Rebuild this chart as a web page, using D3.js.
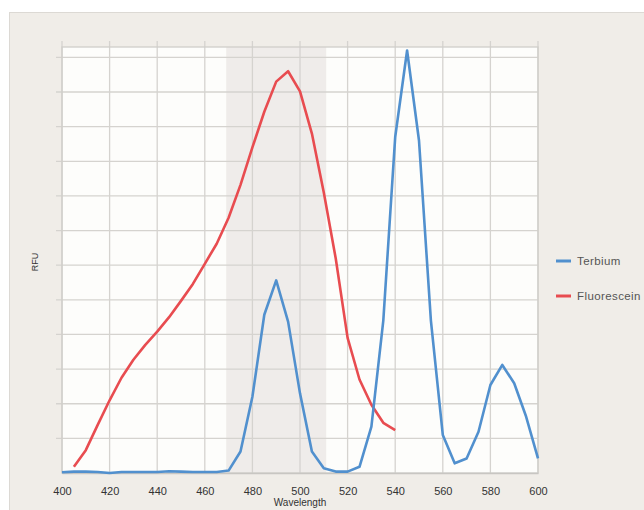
<!DOCTYPE html>
<html><head><meta charset="utf-8">
<script src="https://cdn.jsdelivr.net/npm/d3@7"></script>
<style>body{margin:0;background:#fff}svg{display:block}</style>
</head><body>
<script>
const wavelengths = [400,405,410,415,420,425,430,435,440,445,450,455,460,465,470,475,480,485,490,495,500,505,510,515,520,525,530,535,540,545,550,555,560,565,570,575,580,585,590,595,600];
const terbium = [0.02,0.04,0.04,0.03,0.0,0.03,0.03,0.03,0.03,0.05,0.04,0.03,0.03,0.03,0.07,0.62,2.2,4.57,5.56,4.37,2.3,0.62,0.14,0.04,0.04,0.18,1.34,4.4,9.7,12.2,9.6,4.4,1.1,0.28,0.42,1.19,2.54,3.12,2.59,1.63,0.42];
const fluorWavelengths = [405,410,415,420,425,430,435,440,445,450,455,460,465,470,475,480,485,490,495,500,505,510,515,520,525,530,535,540];
const fluorescein = [0.18,0.66,1.39,2.1,2.75,3.27,3.7,4.08,4.5,4.97,5.46,6.04,6.62,7.37,8.32,9.4,10.43,11.3,11.6,11.02,9.8,8.1,6.2,3.9,2.7,1.97,1.45,1.24];
const xTicks = [400,420,440,460,480,500,520,540,560,580,600];
const yGrid = [1,2,3,4,5,6,7,8,9,10,11,12];
const band = [469,511];
const seriesNames = ["Terbium","Fluorescein"];
const colors = ["#5190ce","#e84c50"];

const W=644,H=510;
const svg=d3.select("body").append("svg").attr("width",W).attr("height",H);
svg.append("rect").attr("width",W).attr("height",H).attr("fill","#fff");
svg.append("rect").attr("x",9.5).attr("y",12.5).attr("width",W).attr("height",H)
  .attr("fill","#f0ede8").attr("stroke","#dcd9d4");

const L=62,R=538,T=47,B=473;
const x=d3.scaleLinear().domain([400,600]).range([L,R]);
const y=d3.scaleLinear().domain([0,12.3]).range([B,T]);

svg.append("rect").attr("x",L).attr("y",T).attr("width",R-L).attr("height",B-T).attr("fill","#fdfdfb");
svg.append("rect").attr("x",x(band[0])).attr("y",T).attr("width",x(band[1])-x(band[0])).attr("height",B-T).attr("fill","#efecea");

const grid="#d5d3cf";
svg.append("g").selectAll("line").data(xTicks).join("line")
  .attr("x1",d=>x(d)).attr("x2",d=>x(d)).attr("y1",T-6).attr("y2",B)
  .attr("stroke",grid).attr("stroke-width",1.3);
svg.append("g").selectAll("line").data(yGrid).join("line")
  .attr("x1",L-6).attr("x2",R).attr("y1",d=>y(d)).attr("y2",d=>y(d))
  .attr("stroke",grid).attr("stroke-width",1.3);
svg.append("rect").attr("x",L).attr("y",T).attr("width",R-L).attr("height",B-T)
  .attr("fill","none").attr("stroke","#d0ceca").attr("stroke-width",1.3);

const xAxis=svg.append("g").attr("transform",`translate(0,${B})`)
  .call(d3.axisBottom(x).tickValues(xTicks).tickSize(0).tickPadding(14).tickFormat(d3.format("d")));
xAxis.select(".domain").attr("stroke","#c8c6c2").attr("stroke-width",1.3);
xAxis.selectAll("text").attr("font-family","Liberation Sans, Arial, sans-serif").attr("font-size",11).attr("fill","#333");

svg.append("text").attr("x",(L+R)/2).attr("y",506).attr("text-anchor","middle")
  .attr("font-family","Liberation Sans, Arial, sans-serif").attr("font-size",10).attr("fill","#333").text("Wavelength");
svg.append("text").attr("transform","translate(38,262) rotate(-90)").attr("text-anchor","middle")
  .attr("font-family","Liberation Sans, Arial, sans-serif").attr("font-size",9).attr("fill","#333").text("RFU");

const line=d3.line().x(d=>x(d[0])).y(d=>y(d[1]));
svg.append("path").datum(fluorWavelengths.map((w,i)=>[w,fluorescein[i]]))
  .attr("d",line).attr("fill","none").attr("stroke",colors[1]).attr("stroke-width",2.6).attr("stroke-linejoin","round");
svg.append("path").datum(wavelengths.map((w,i)=>[w,terbium[i]]))
  .attr("d",line).attr("fill","none").attr("stroke",colors[0]).attr("stroke-width",2.6).attr("stroke-linejoin","round");

const lg=svg.append("g").selectAll("g").data(seriesNames).join("g")
  .attr("transform",(d,i)=>`translate(556,${261+i*35})`);
lg.append("line").attr("x1",0).attr("x2",15).attr("stroke",(d,i)=>colors[i]).attr("stroke-width",3);
lg.append("text").attr("x",21).attr("y",4).attr("font-family","Liberation Sans, Arial, sans-serif")
  .attr("font-size",11.5).attr("letter-spacing",0.4).attr("fill","#555").text(d=>d);
</script>
</body></html>
